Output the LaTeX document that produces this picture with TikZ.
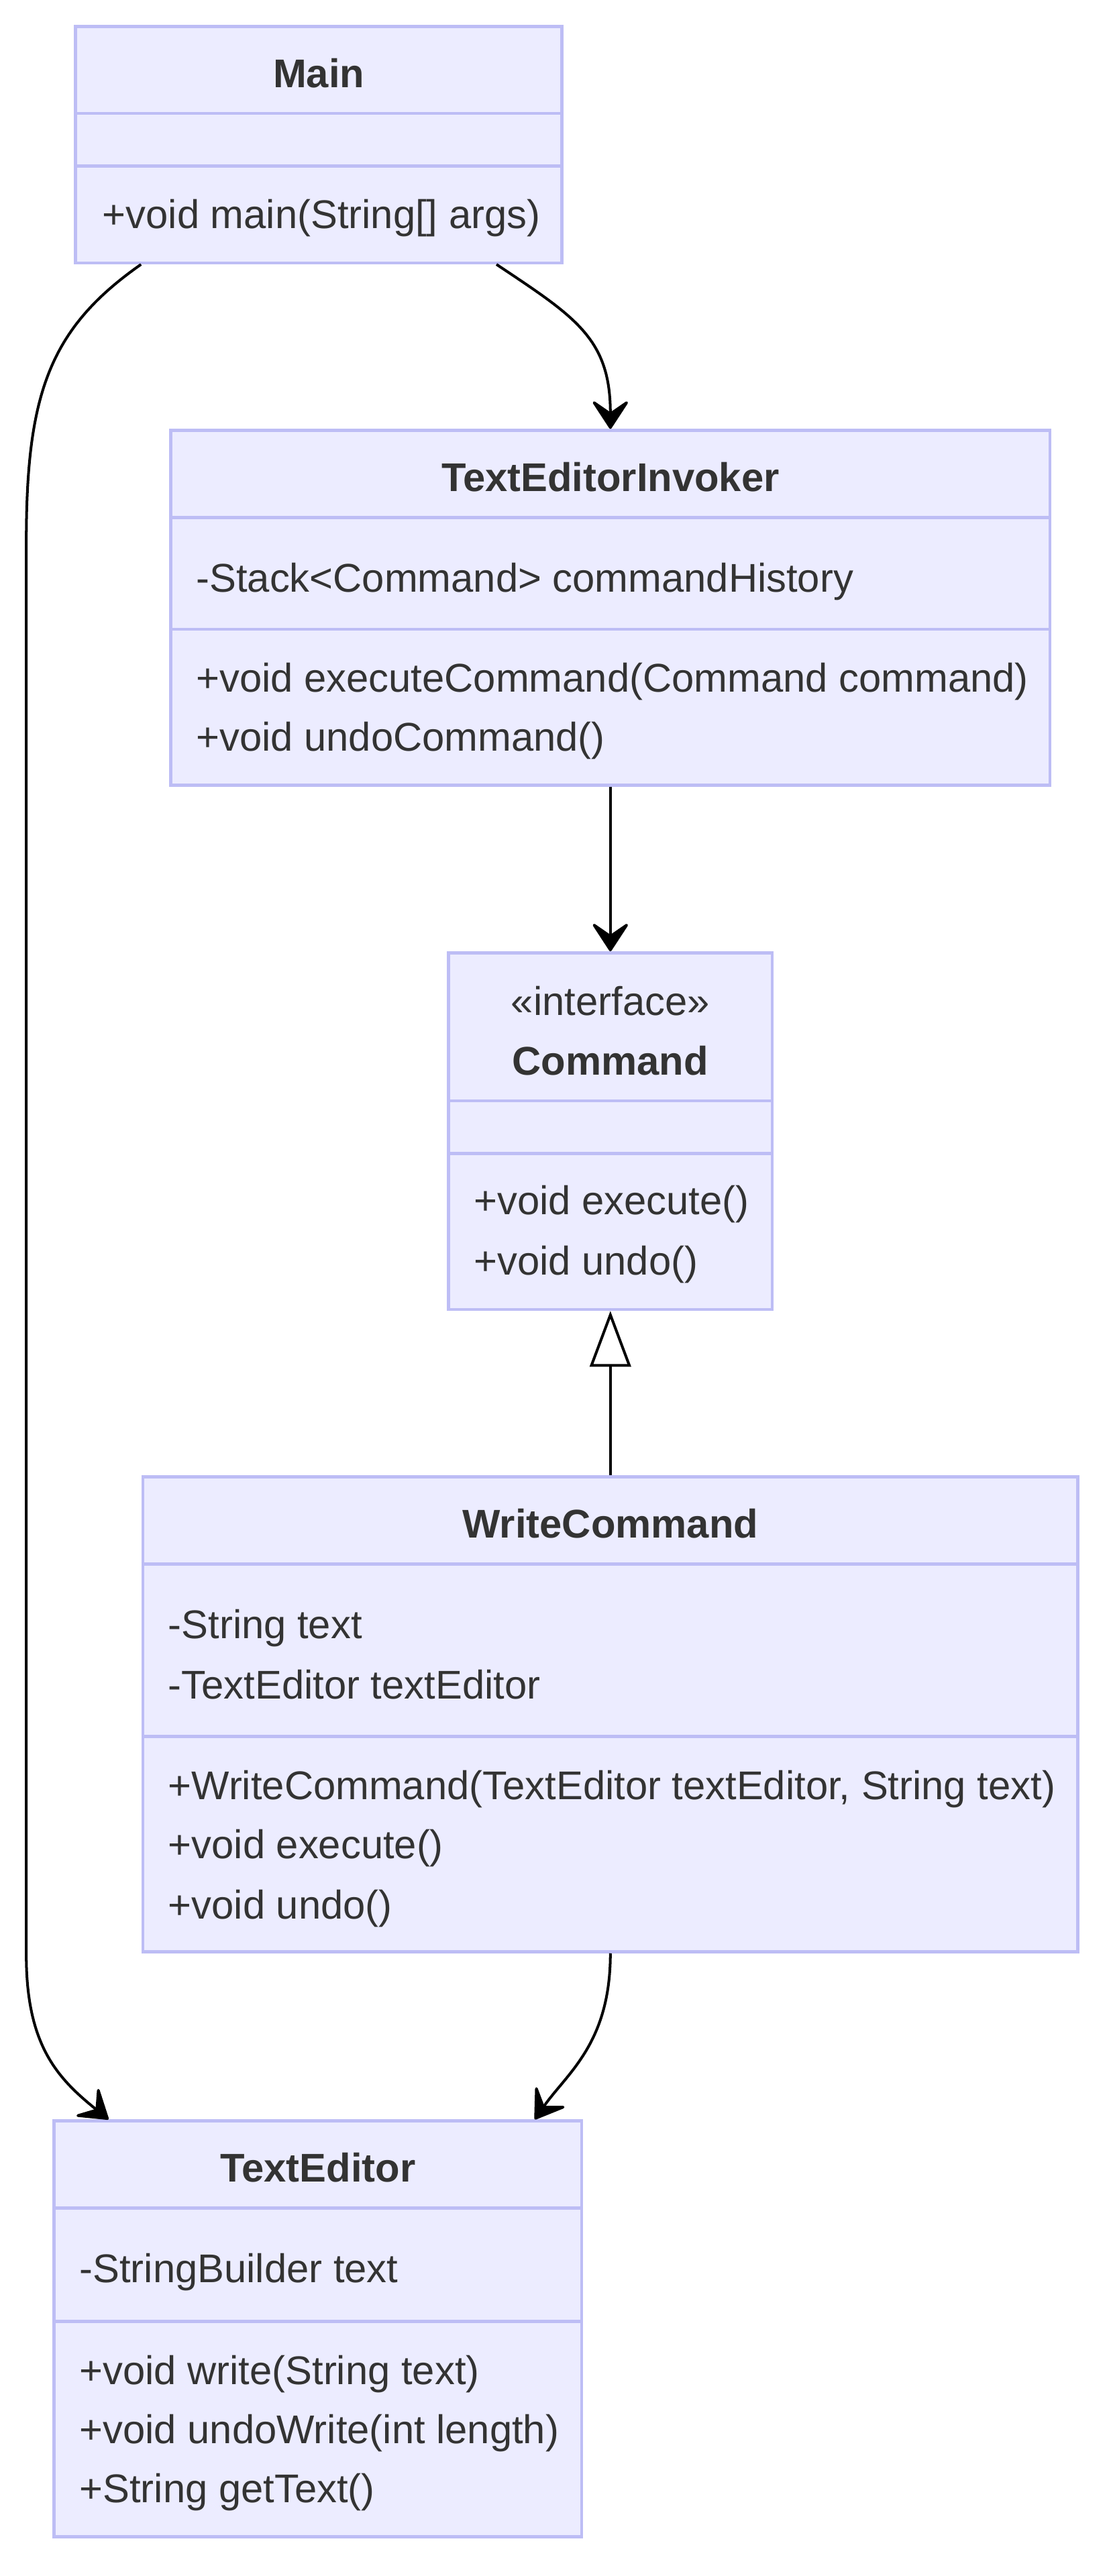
\documentclass[tikz,border=0pt]{standalone}
\usepackage{fontspec}
\setmainfont{Liberation Sans}
\usetikzlibrary{arrows.meta}
\definecolor{boxfill}{HTML}{ECECFF}
\definecolor{boxline}{HTML}{BDBDF5}
\definecolor{txt}{HTML}{333333}
\begin{document}
\begin{tikzpicture}[x=0.5pt, y=-0.5pt,
  classbox/.style={draw=boxline, fill=boxfill, line width=0.95pt, inner sep=0pt},
  title/.style={font=\fontsize{12.2}{14}\selectfont\bfseries, text=txt, inner sep=0pt, text height=8.7pt, text depth=0.5pt},
  member/.style={font=\fontsize{12.2}{14}\selectfont, text=txt, inner sep=0pt, anchor=west, text height=8.7pt, text depth=0.5pt},
  sep/.style={draw=boxline, line width=0.95pt},
  dep/.style={draw=black, line width=0.82pt, -{Stealth[length=9.8pt, width=12.8pt, inset=4.4pt, round]}},
  inherit/.style={draw=black, line width=0.82pt, -{Triangle[length=17pt, width=12.5pt, fill=white]}}]
\path[fill=white] (0,0) rectangle (676,1568);
\useasboundingbox (0,0) rectangle (676,1568);

% Main
\node[classbox, minimum width=148pt, minimum height=72pt] (main) at (194,88) {};
\draw[sep] (main.west |- 0,69) -- (main.east |- 0,69);
\draw[sep] (main.west |- 0,101) -- (main.east |- 0,101);
\node[title] (mainT) at (194,45) {Main};
\node[member] (mainM1) at (62,131) {+void main(String[] args)};

% TextEditorInvoker
\node[classbox, minimum width=267.5pt, minimum height=108pt] (invoker) at (371.5,370) {};
\draw[sep] (invoker.west |- 0,315) -- (invoker.east |- 0,315);
\draw[sep] (invoker.west |- 0,383) -- (invoker.east |- 0,383);
\node[title] (invokerT) at (371.5,291) {TextEditorInvoker};
\node[member] (invokerA1) at (119,352) {-Stack<Command> commandHistory};
\node[member] (invokerM1) at (119,413) {+void executeCommand(Command command)};
\node[member] (invokerM2) at (119,449) {+void undoCommand()};

% Command
\node[classbox, minimum width=98.5pt, minimum height=108.5pt] (cmd) at (371.5,688.5) {};
\draw[sep] (cmd.west |- 0,670) -- (cmd.east |- 0,670);
\draw[sep] (cmd.west |- 0,702) -- (cmd.east |- 0,702);
\node[title, font=\fontsize{12.2}{14}\selectfont] (cmdS) at (371.5,610) {«interface»};
\node[title] (cmdT) at (371.5,646) {Command};
\node[member] (cmdM1) at (288,731) {+void execute()};
\node[member] (cmdM2) at (288,768) {+void undo()};

% WriteCommand
\node[classbox, minimum width=284.5pt, minimum height=144.5pt] (wcmd) at (371.5,1043.5) {};
\draw[sep] (wcmd.west |- 0,952) -- (wcmd.east |- 0,952);
\draw[sep] (wcmd.west |- 0,1057) -- (wcmd.east |- 0,1057);
\node[title] (wcmdT) at (371.5,928) {WriteCommand};
\node[member] (wcmdA1) at (102,989) {-String text};
\node[member] (wcmdA2) at (102,1026) {-TextEditor textEditor};
\node[member] (wcmdM1) at (102,1087) {+WriteCommand(TextEditor textEditor, String text)};
\node[member] (wcmdM2) at (102,1123) {+void execute()};
\node[member] (wcmdM3) at (102,1160) {+void undo()};

% TextEditor
\node[classbox, minimum width=160.5pt, minimum height=126.5pt] (texted) at (193.5,1417.5) {};
\draw[sep] (texted.west |- 0,1344) -- (texted.east |- 0,1344);
\draw[sep] (texted.west |- 0,1413) -- (texted.east |- 0,1413);
\node[title] (textedT) at (193.5,1320) {TextEditor};
\node[member] (textedA1) at (48,1381) {-StringBuilder text};
\node[member] (textedM1) at (48,1443) {+void write(String text)};
\node[member] (textedM2) at (48,1479) {+void undoWrite(int length)};
\node[member] (textedM3) at (48,1515) {+String getText()};

% relations
\draw[dep] (main.-34) .. controls +(48,32) and +(0,-55) .. (invoker.north);
\draw[dep] (main.214) .. controls (30,200) and (16,240) .. (16,330) -- (16,1190)
  .. controls (16,1245) and (35,1265) .. (texted.135.4);
\draw[dep] (invoker.south) -- (cmd.north);
\draw[inherit] (wcmd.north) -- (cmd.south);
\draw[dep] (wcmd.south) .. controls +(0,55) and (345,1262) .. (texted.44.3);
\end{tikzpicture}
\end{document}
